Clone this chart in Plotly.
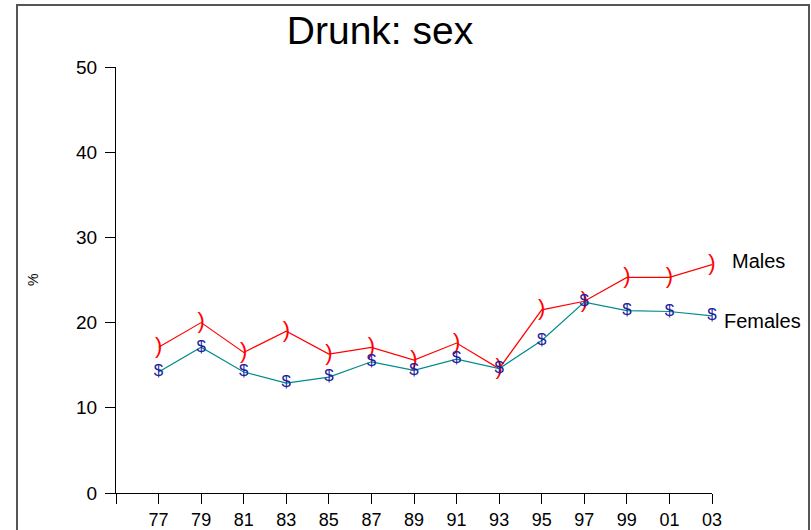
import plotly.graph_objects as go

# ---- data ----
years = [1977, 1979, 1981, 1983, 1985, 1987, 1989, 1991, 1993, 1995, 1997, 1999, 2001, 2003]
males = [17.1, 20.0, 16.5, 19.0, 16.3, 17.1, 15.6, 17.6, 14.6, 21.5, 22.5, 25.3, 25.3, 26.8]
females = [14.2, 17.1, 14.2, 12.9, 13.6, 15.4, 14.4, 15.7, 14.6, 17.9, 22.4, 21.4, 21.3, 20.8]
tick_years = [1975, 1977, 1979, 1981, 1983, 1985, 1987, 1989, 1991, 1993, 1995, 1997, 1999, 2001, 2003]
tick_labels = ["", "77", "79", "81", "83", "85", "87", "89", "91", "93", "95", "97", "99", "01", "03"]
y_ticks = [0, 10, 20, 30, 40, 50]

FONT = "Liberation Sans, Arial, sans-serif"

fig = go.Figure()
fig.add_trace(go.Scatter(
    x=years, y=males, mode="lines+text", name="Males",
    text=[")"] * len(years), textposition="middle center",
    textfont=dict(family=FONT, size=22, color="#ff0000"),
    line=dict(color="#ff0000", width=1.2), cliponaxis=False, showlegend=False,
))
fig.add_trace(go.Scatter(
    x=years, y=females, mode="lines+text", name="Females",
    text=["$"] * len(years), textposition="middle center",
    textfont=dict(family=FONT, size=17, color="#2020a0"),
    line=dict(color="#008b8b", width=1.2), cliponaxis=False, showlegend=False,
))

axis_common = dict(
    showline=True, linecolor="black", linewidth=1,
    ticks="outside", ticklen=10, tickcolor="black", tickwidth=1,
    showgrid=False, zeroline=False, automargin=False,
)

fig.update_layout(
    width=811, height=530, autosize=False,
    margin=dict(l=116, r=99, t=67, b=37),
    paper_bgcolor="white", plot_bgcolor="white",
    font=dict(family=FONT, color="black"),
    title=dict(text="Drunk: sex", x=380 / 811, xref="container", xanchor="center",
               y=1 - 30 / 530, yref="container", yanchor="middle",
               font=dict(family=FONT, size=39, color="black")),
    xaxis=dict(range=[1975, 2003], tickmode="array", tickvals=tick_years,
               ticktext=tick_labels,
               tickfont=dict(family=FONT, size=18, color="black"), **axis_common),
    yaxis=dict(range=[0, 50], tickmode="array", tickvals=y_ticks, ticklabelstandoff=4,
               tickfont=dict(family=FONT, size=19, color="black"), **axis_common),
    shapes=[dict(type="rect", xref="paper", yref="paper",
                 x0=(17 - 116) / 596, x1=(809 - 116) / 596,
                 y0=(493 - 545) / 426, y1=(493 - 5) / 426,
                 line=dict(color="#555555", width=2), fillcolor="rgba(0,0,0,0)")],
    annotations=[
        dict(text="%", xref="paper", yref="paper", x=(33 - 116) / 596, y=0.5,
             xanchor="center", yanchor="middle",
             textangle=-90, showarrow=False, font=dict(family=FONT, size=14, color="black")),
        dict(text="Males", xref="x", yref="y", x=years[-1], y=males[-1],
             xanchor="left", yanchor="middle", xshift=18, yshift=4, showarrow=False,
             font=dict(family=FONT, size=20, color="black")),
        dict(text="Females", xref="x", yref="y", x=years[-1], y=females[-1],
             xanchor="left", yanchor="middle", xshift=10, yshift=-5, showarrow=False,
             font=dict(family=FONT, size=20, color="black")),
    ],
)

fig.write_html("out.html", config={"displayModeBar": False},
               post_script="document.body.style.margin='0px';")
